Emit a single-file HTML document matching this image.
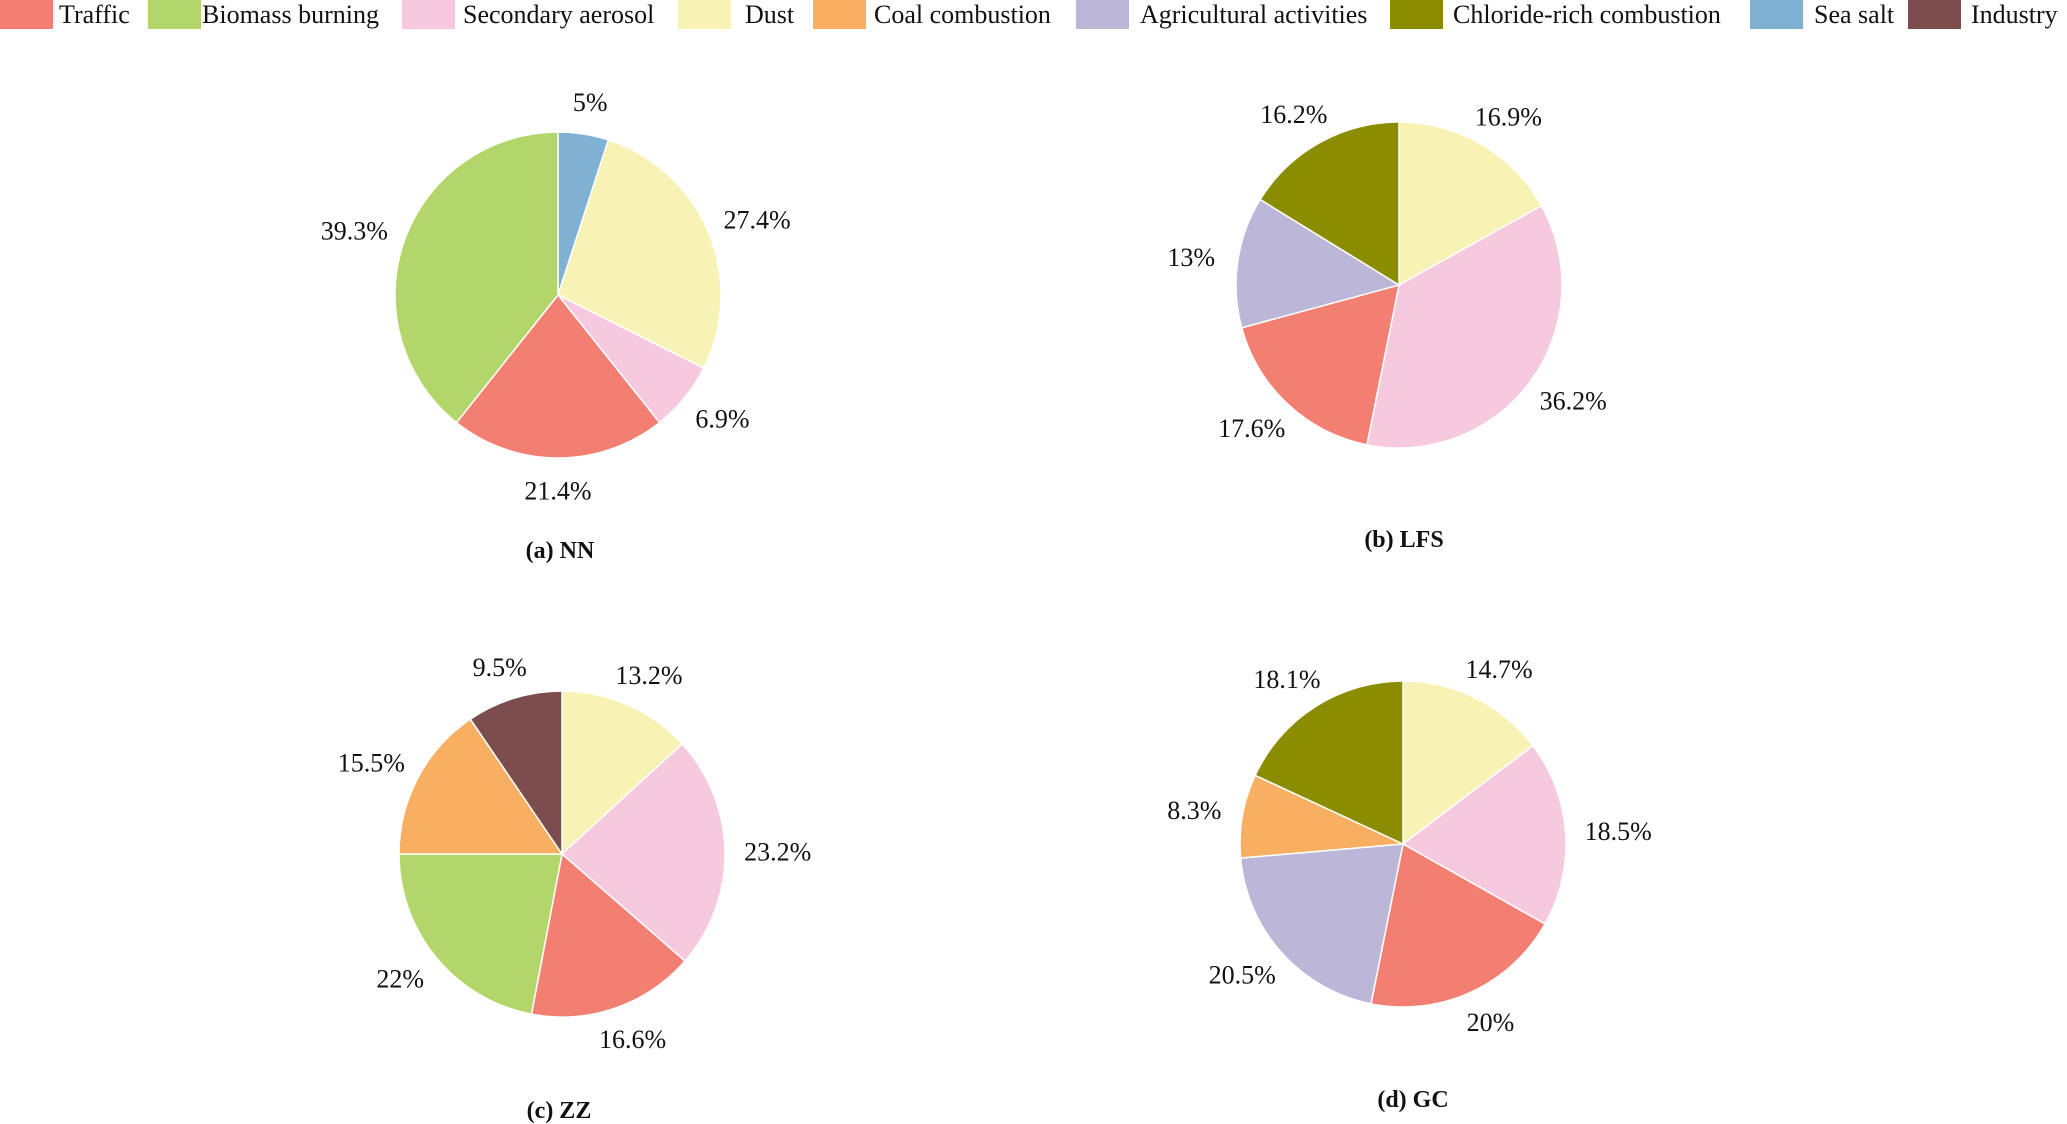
<!DOCTYPE html>
<html><head><meta charset="utf-8">
<style>
html,body{margin:0;padding:0;background:#fff;}
svg{display:block;font-family:"Liberation Serif",serif;}
</style></head>
<body>
<svg id="chart" width="2067" height="1124" viewBox="0 0 2067 1124" xmlns="http://www.w3.org/2000/svg"></svg>
<script>
const categories = ["Traffic","Biomass burning","Secondary aerosol","Dust","Coal combustion","Agricultural activities","Chloride-rich combustion","Sea salt","Industry"];
const colors = ["#F27F72","#B3D66B","#F7C9DF","#F8F3B5","#F8AF62","#BCB6D8","#8C8C00","#7FB1D3","#7D4D4E"];
const nnCats = ["Sea salt","Dust","Secondary aerosol","Traffic","Biomass burning"];
const nnVals = [5,27.4,6.9,21.4,39.3];
const lfsCats = ["Dust","Secondary aerosol","Traffic","Agricultural activities","Chloride-rich combustion"];
const lfsVals = [16.9,36.2,17.6,13,16.2];
const zzCats = ["Dust","Secondary aerosol","Traffic","Biomass burning","Coal combustion","Industry"];
const zzVals = [13.2,23.2,16.6,22,15.5,9.5];
const gcCats = ["Dust","Secondary aerosol","Traffic","Agricultural activities","Coal combustion","Chloride-rich combustion"];
const gcVals = [14.7,18.5,20,20.5,8.3,18.1];
const titles = ["(a) NN","(b) LFS","(c) ZZ","(d) GC"];

const svg = document.getElementById('chart');
const NS = "http://www.w3.org/2000/svg";
function mk(tag, attrs){const e=document.createElementNS(NS,tag);for(const k in attrs)e.setAttribute(k,attrs[k]);svg.appendChild(e);return e;}

const legendX = [0,148,402,678,813,1076,1390,1750,1908];
const legendTextX = [59,202,463,745,874,1140,1453,1814,1971];
categories.forEach((c,i)=>{
  const r = mk('rect',{x:legendX[i],y:0,width:53,height:29,fill:colors[i]});
  
  
  const t = mk('text',{x:legendTextX[i],y:23,'font-size':26,fill:'#111'});
  t.textContent = c;
  
  
});

const pies = [
  {cats:nnCats, vals:nnVals, cx:558, cy:295, tx:560, ty:558},
  {cats:lfsCats, vals:lfsVals, cx:1399, cy:285, tx:1404, ty:547},
  {cats:zzCats, vals:zzVals, cx:562, cy:854, tx:559, ty:1118},
  {cats:gcCats, vals:gcVals, cx:1403, cy:844, tx:1413, ty:1107}
];
const R = 163;
pies.forEach((p,pi)=>{
  const total = p.vals.reduce((a,b)=>a+b,0);
  let acc = 0;
  p.vals.forEach((v,i)=>{
    const a0 = acc/total*2*Math.PI, a1 = (acc+v)/total*2*Math.PI;
    acc += v;
    const x0=p.cx+R*Math.sin(a0), y0=p.cy-R*Math.cos(a0);
    const x1=p.cx+R*Math.sin(a1), y1=p.cy-R*Math.cos(a1);
    const large = (a1-a0)>Math.PI?1:0;
    const col = colors[categories.indexOf(p.cats[i])];
    const path = mk('path',{d:`M${p.cx},${p.cy} L${x0},${y0} A${R},${R} 0 ${large} 1 ${x1},${y1} Z`,fill:col,stroke:'#fff','stroke-width':1.5});
    
    
    const am=(a0+a1)/2, d=R*1.2;
    const s=Math.sin(am), c=Math.cos(am);
    const t = mk('text',{x:p.cx+d*s,y:p.cy-d*c+9,'font-size':26,'text-anchor':'middle',fill:'#111'});
    t.textContent = v+'%';
    const w = t.getComputedTextLength ? t.getComputedTextLength() : 60;
    t.setAttribute('x', p.cx+d*s + s*0.3*w);
    
    
  });
  const tt = mk('text',{x:p.tx,y:p.ty,'font-size':24,'font-weight':'bold','text-anchor':'middle',fill:'#111'});
  tt.textContent = titles[pi];
  
  
});
</script>
</body></html>
